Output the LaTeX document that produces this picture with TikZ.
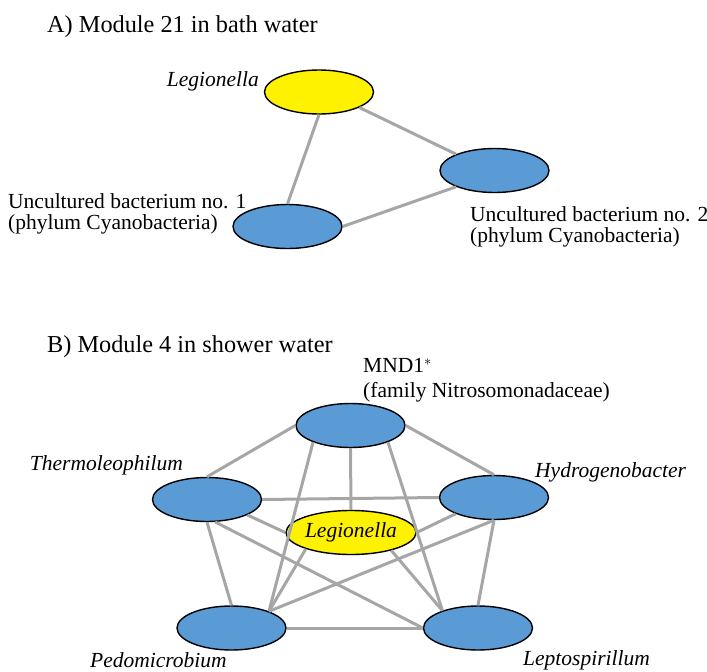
\documentclass[tikz,border=0pt]{standalone}
\usepackage{fontspec}
\setmainfont{Liberation Serif}
\usetikzlibrary{shapes.geometric}
\definecolor{taxonblue}{HTML}{5B9BD5}
\definecolor{linkgray}{HTML}{A6A6A6}
\tikzset{
  taxon/.style={ellipse, draw=black, line width=1.4pt, fill=taxonblue,
    minimum width=109pt, minimum height=44pt, inner sep=0pt},
  legio/.style={taxon, fill=yellow},
  lbl/.style={inner sep=0pt, font=\fontsize{21.5}{21.5}\selectfont},
  ttl/.style={inner sep=0pt, font=\fontsize{24.3}{25}\selectfont},
  link/.style={draw=linkgray, line width=3pt},
}
\begin{document}
\begin{tikzpicture}[x=1pt,y=-1pt]
    \useasboundingbox (0,0) rectangle (707,672);
    % A) bath water
    \node[ttl, anchor=base west] (titleA) at (47,32) {A) Module 21 in bath water};
    \node[legio] (legA) at (319,92) {};
    \node[taxon] (unc2) at (494.5,170.5) {};
    \node[taxon] (unc1) at (287.5,226.5) {};
    \node[lbl, anchor=base east] (legAlbl) at (259,86) {\textit{Legionella}};
    \node[lbl, anchor=west, align=left] (unc1lbl) at (8,214) {Uncultured bacterium no. 1\\(phylum Cyanobacteria)};
    \node[lbl, anchor=west, align=left] (unc2lbl) at (470,227) {Uncultured bacterium no. 2\\(phylum Cyanobacteria)};
    \draw[link] (legA.south) -- (unc1.north);
    \draw[link] (legA.-21) -- (unc2.157);
    \draw[link] (unc1.east) -- (unc2.203);
    % B) shower water
    \node[ttl, anchor=base west] (titleB) at (47,352) {B) Module 4 in shower water};
    \node[taxon] (mnd) at (350.5,425.5) {};
    \node[taxon] (therm) at (207,499.5) {};
    \node[taxon] (hydro) at (494,497.5) {};
    \node[legio, font=\fontsize{21.5}{21.5}\selectfont\itshape] (legB) at (351,532.5) {Legionella};
    \node[taxon] (pedo) at (231.5,628) {};
    \node[taxon] (lepto) at (478,628) {};
    \node[lbl, anchor=west, align=left] (mndlbl) at (363,380) {MND1$^*$\\[3pt](family Nitrosomonadaceae)};
    \node[lbl, anchor=base east] (thermlbl) at (183,470) {\textit{Thermoleophilum}};
    \node[lbl, anchor=base west] (hydrolbl) at (535,477) {\textit{Hydrogenobacter}};
    \node[lbl, anchor=base west] (pedolbl) at (90,667) {\textit{Pedomicrobium}};
    \node[lbl, anchor=base west] (leptolbl) at (523,665) {\textit{Leptospirillum}};
    \draw[link] (mnd.west) -- (therm.north);
    \draw[link] (mnd.east) -- (hydro.north);
    \draw[link] (mnd.south) -- (legB.north);
    \draw[link] (mnd.204) -- (pedo.24);
    \draw[link] (mnd.-24) -- (lepto.154);
    \draw[link] (therm.east) -- (hydro.west);
    \draw[link] (therm.-21) -- (legB.west);
    \draw[link] (therm.south) -- (pedo.north);
    \draw[link] (therm.-70) -- (lepto.west);
    \draw[link] (hydro.203) -- (legB.east);
    \draw[link] (hydro.south) -- (pedo.24);
    \draw[link] (hydro.south) -- (lepto.north);
    \draw[link] (legB.200) -- (pedo.24);
    \draw[link] (legB.-24) -- (lepto.154);
    \draw[link] (pedo.east) -- (lepto.west);
\end{tikzpicture}
\end{document}
